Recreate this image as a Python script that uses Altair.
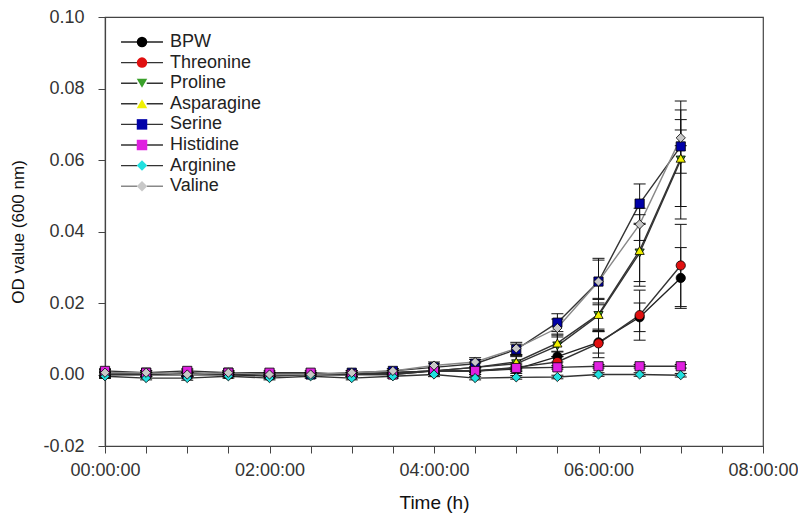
import altair as alt
import pandas as pd

hours = [0, 0.5, 1, 1.5, 2, 2.5, 3, 3.5, 4, 4.5, 5, 5.5, 6, 6.5, 7]

series = ["BPW", "Threonine", "Proline", "Asparagine", "Serine", "Histidine", "Arginine", "Valine"]
fill_colors = ["#000000", "#e01010", "#3aa02a", "#f0f000", "#0000a8", "#e020e0", "#20e0e0", "#c8c8c8"]
shapes = ["circle", "circle", "triangle-down", "triangle-up", "square", "square", "diamond", "diamond"]
line_colors = ["#222222", "#333333", "#333333", "#333333", "#333333", "#333333", "#333333", "#888888"]

bpw = [0.0000, 0.0000, 0.0000, 0.0000, -0.0005, 0.0000, 0.0000, 0.0005, 0.0010, 0.0010, 0.0015, 0.0050, 0.0090, 0.0160, 0.0270]
threonine = [0.0005, 0.0000, 0.0005, 0.0000, 0.0000, 0.0000, 0.0000, 0.0000, 0.0010, 0.0010, 0.0020, 0.0035, 0.0087, 0.0166, 0.0305]
proline = [0.0000, 0.0000, 0.0000, 0.0000, 0.0000, 0.0000, 0.0000, 0.0005, 0.0010, 0.0020, 0.0030, 0.0080, 0.0165, 0.0340, 0.0600]
asparagine = [0.0000, 0.0000, 0.0000, 0.0000, 0.0000, 0.0000, 0.0000, 0.0005, 0.0010, 0.0020, 0.0035, 0.0088, 0.0168, 0.0347, 0.0605]
serine = [0.0005, 0.0005, 0.0000, 0.0005, 0.0000, 0.0000, 0.0005, 0.0010, 0.0020, 0.0030, 0.0070, 0.0145, 0.0260, 0.0478, 0.0638]
histidine = [0.0010, 0.0005, 0.0010, 0.0005, 0.0005, 0.0005, 0.0000, 0.0000, 0.0010, 0.0010, 0.0018, 0.0020, 0.0023, 0.0023, 0.0023]
arginine = [-0.0005, -0.0010, -0.0010, -0.0005, -0.0010, -0.0005, -0.0010, -0.0005, 0.0000, -0.0010, -0.0008, -0.0007, 0.0000, 0.0000, -0.0002]
valine = [0.0005, 0.0005, 0.0000, 0.0005, 0.0000, 0.0000, 0.0005, 0.0010, 0.0025, 0.0035, 0.0073, 0.0130, 0.0260, 0.0420, 0.0662]

bpw_sd = [0.0008, 0.0006, 0.0006, 0.0005, 0.0005, 0.0005, 0.0006, 0.0006, 0.0008, 0.0010, 0.0012, 0.0015, 0.0030, 0.0040, 0.0085]
threonine_sd = [0.0008, 0.0006, 0.0008, 0.0006, 0.0006, 0.0005, 0.0006, 0.0006, 0.0008, 0.0010, 0.0012, 0.0015, 0.0040, 0.0070, 0.0115]
proline_sd = [0.0006, 0.0006, 0.0006, 0.0005, 0.0005, 0.0005, 0.0006, 0.0006, 0.0010, 0.0015, 0.0020, 0.0030, 0.0045, 0.0080, 0.0165]
asparagine_sd = [0.0006, 0.0006, 0.0006, 0.0005, 0.0005, 0.0005, 0.0006, 0.0006, 0.0010, 0.0012, 0.0018, 0.0025, 0.0045, 0.0100, 0.0135]
serine_sd = [0.0008, 0.0006, 0.0006, 0.0005, 0.0005, 0.0005, 0.0006, 0.0006, 0.0010, 0.0012, 0.0015, 0.0025, 0.0065, 0.0055, 0.0075]
histidine_sd = [0.0006, 0.0005, 0.0006, 0.0005, 0.0005, 0.0005, 0.0005, 0.0005, 0.0006, 0.0005, 0.0005, 0.0005, 0.0005, 0.0005, 0.0005]
arginine_sd = [0.0006, 0.0005, 0.0006, 0.0005, 0.0005, 0.0005, 0.0005, 0.0005, 0.0006, 0.0005, 0.0005, 0.0005, 0.0005, 0.0005, 0.0005]
valine_sd = [0.0008, 0.0006, 0.0006, 0.0005, 0.0005, 0.0005, 0.0006, 0.0006, 0.0010, 0.0012, 0.0017, 0.0025, 0.0060, 0.0045, 0.0022]

values = dict(zip(series, [bpw, threonine, proline, asparagine, serine, histidine, arginine, valine]))
sds = dict(zip(series, [bpw_sd, threonine_sd, proline_sd, asparagine_sd, serine_sd, histidine_sd, arginine_sd, valine_sd]))

# line keys differ from the marker keys so the two legends are not merged
line_keys = [s + " line" for s in series]

rows = []
for s, lk in zip(series, line_keys):
    for t, v, sd in zip(hours, values[s], sds[s]):
        rows.append({"series": s, "line_series": lk, "t": t, "od": v, "lo": v - sd, "hi": v + sd})
df = pd.DataFrame(rows)

FONT = "Liberation Sans"

xscale = alt.Scale(domain=[0, 8], nice=False, zero=False)
yscale = alt.Scale(domain=[-0.02, 0.10], nice=False, zero=False)

xaxis = alt.Axis(
    values=[0.5 * i for i in range(17)],
    labelExpr="datum.value % 2 == 0 ? '0' + datum.value + ':00:00' : ''",
    title="Time (h)",
    tickSize=7,
    labelPadding=8,
    titlePadding=14,
    titleFontSize=19,
    labelFlush=False,
    labelOverlap=False,
    grid=False,
)
yaxis = alt.Axis(
    values=[-0.02, 0.0, 0.02, 0.04, 0.06, 0.08, 0.10],
    labelExpr="(datum.value < 0 ? '-' : '') + format(abs(datum.value), '.2f')",
    title="OD value (600 nm)",
    tickSize=7,
    labelPadding=14,
    titlePadding=15,
    grid=False,
)

X = alt.X("t:Q", scale=xscale, axis=xaxis)
Y = alt.Y("od:Q", scale=yscale, axis=yaxis)

legend_common = dict(
    title=None,
    orient="none",
    legendX=28,
    legendY=16,
    symbolSize=110,
    labelFont=FONT,
    labelFontSize=18,
    labelColor="#222222",
    labelOffset=19,
    rowPadding=2.6,
    padding=0,
)

base = alt.Chart(df)

lines = base.mark_line(strokeWidth=1.4).encode(
    x=X,
    y=Y,
    stroke=alt.Stroke(
        "line_series:N",
        sort=line_keys,
        scale=alt.Scale(domain=line_keys, range=line_colors),
        legend=alt.Legend(
            symbolType="M-4.0,0H-0.9M0.9,0H4.0",
            symbolStrokeWidth=1.4,
            symbolFillColor="transparent",
            labelExpr="''",
            **legend_common,
        ),
    ),
    order="t:Q",
)

err = base.mark_rule(color="#111111", strokeWidth=1).encode(
    x=X, y=alt.Y("lo:Q", scale=yscale, axis=yaxis), y2="hi:Q"
)

caps = base.transform_fold(["lo", "hi"], as_=["end", "yv"]).mark_tick(
    orient="horizontal", size=12, thickness=1, color="#111111", opacity=1
).encode(x=X, y=alt.Y("yv:Q", scale=yscale, axis=yaxis))

pt_legend = alt.Legend(symbolStrokeColor="#000000", symbolStrokeWidth=0.8, **legend_common)
points = base.mark_point(filled=True, size=85, stroke="#000000", strokeWidth=0.8, opacity=1).encode(
    x=X,
    y=Y,
    fill=alt.Fill("series:N", sort=series, scale=alt.Scale(domain=series, range=fill_colors), legend=pt_legend),
    shape=alt.Shape("series:N", sort=series, scale=alt.Scale(domain=series, range=shapes), legend=pt_legend),
)

chart = (
    alt.layer(lines, err, caps, points)
    .properties(
        width=658,
        height=429,
        autosize=alt.AutoSizeParams(type="none"),
        padding={"left": 97, "top": 9, "right": 35, "bottom": 67},
    )
    .configure(font=FONT)
    .configure_view(stroke="#444444", strokeWidth=1.2)
    .configure_axis(
        labelFont=FONT,
        labelFontSize=18,
        labelColor="#333333",
        titleFont=FONT,
        titleFontSize=17,
        titleFontWeight="normal",
        titleColor="#111111",
        domainColor="#444444",
        domainWidth=1.2,
        tickColor="#444444",
        tickWidth=1,
    )
)

chart.save("out.html", embed_options={"renderer": "svg", "actions": False})
